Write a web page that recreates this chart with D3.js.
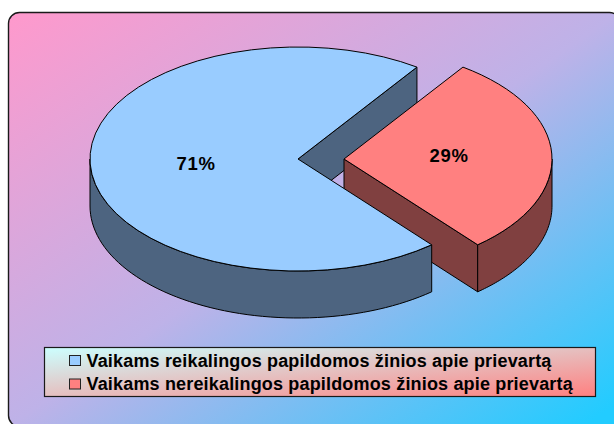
<!DOCTYPE html>
<html>
<head>
<meta charset="utf-8">
<script src="https://cdn.jsdelivr.net/npm/d3@7"></script>
<style>
html, body { margin: 0; padding: 0; background: #fff; overflow: hidden; }
svg { display: block; }
</style>
</head>
<body>
<div id="chart"></div>
<script>
var categories = ["Vaikams reikalingos papildomos žinios apie prievartą", "Vaikams nereikalingos papildomos žinios apie prievartą"];
var values = [70.8, 29.2]; // printed rounded below
var labels = ["71%", "29%"];
var topColors = ["#99CCFF", "#FF8080"];
var sideColors = ["#4D6480", "#804040"];

var width = 614, height = 424;
var rx = 208, ry = 112, depth = 47;
var cx = 298, cy = 159;
var explode = 46; // red slice is pulled out to the right
var tilt = ry / rx;
var firstAngle = 140 * Math.PI / 180;

var svg = d3.select("#chart").append("svg")
	.attr("width", width)
	.attr("height", height)
	.attr("font-family", "'Liberation Sans', Arial, sans-serif");

var defs = svg.append("defs");

var bg = defs.append("linearGradient").attr("id", "bg")
	.attr("x1", 0).attr("y1", 0).attr("x2", 1).attr("y2", 1);
bg.append("stop").attr("offset", 0).attr("stop-color", "#FF99CC");
bg.append("stop").attr("offset", 0.5).attr("stop-color", "#BEB2E8");
bg.append("stop").attr("offset", 0.97).attr("stop-color", "#22CCFF");

var lg = defs.append("linearGradient").attr("id", "lg")
	.attr("x1", 0).attr("y1", 0).attr("x2", 1).attr("y2", 1);
lg.append("stop").attr("offset", 0).attr("stop-color", "#CCFFFF");
lg.append("stop").attr("offset", 1).attr("stop-color", "#FF8080");

// background panel, its right and bottom edges run off the picture
svg.append("rect")
	.attr("x", 8.5).attr("y", 12.5)
	.attr("width", 612).attr("height", 414)
	.attr("rx", 11).attr("ry", 11)
	.attr("fill", "url(#bg)")
	.attr("stroke", "#1a1a1a")
	.attr("stroke-width", 1.4);

var pie = d3.pie().sort(null).startAngle(firstAngle).endAngle(firstAngle + 2 * Math.PI);
var slices = pie(values);
var arc = d3.arc().innerRadius(0).outerRadius(rx);

var big = slices[0], red = slices[1];

function px(a) { return rx * Math.sin(a); }
function py(a) { return -ry * Math.cos(a); }

// outer wall between two angles, only the front half of the ellipse shows
function outerWall(a0, a1) {
	var steps = d3.range(0, 61).map(function(i) { return a0 + (a1 - a0) * i / 60; });
	var pts = steps.map(function(a) { return [px(a), py(a)]; })
		.concat(steps.slice().reverse().map(function(a) { return [px(a), py(a) + depth]; }));
	return d3.line()(pts) + "Z";
}

function radialWall(a) {
	return d3.line()([[0, 0], [px(a), py(a)], [px(a), py(a) + depth], [0, depth]]) + "Z";
}

function addWall(g, d, i) {
	g.append("path")
		.attr("d", d)
		.attr("fill", sideColors[i])
		.attr("stroke", "#000")
		.attr("stroke-width", 1)
		.attr("stroke-linejoin", "round");
}

function addTop(g, slice, i) {
	g.append("path")
		.attr("transform", "scale(1," + tilt + ")")
		.attr("d", arc(slice))
		.attr("fill", topColors[i])
		.attr("stroke", "#000")
		.attr("stroke-width", 1)
		.attr("vector-effect", "non-scaling-stroke");
}

var bigG = svg.append("g").attr("transform", "translate(" + cx + "," + cy + ")");
var redG = svg.append("g").attr("transform", "translate(" + (cx + explode) + "," + cy + ")");
var bigFront = svg.append("g").attr("transform", "translate(" + cx + "," + cy + ")");

// big slice: the wall of the cut, seen behind the red slice
addWall(bigG, radialWall(big.endAngle), 0);

// red slice: walls then top (red angles run past a full turn)
addWall(redG, radialWall(red.endAngle), 1);
addWall(redG, outerWall(2.5 * Math.PI, red.endAngle), 1);
addTop(redG, red, 1);

// big slice in front
addWall(bigFront, outerWall(big.startAngle, 1.5 * Math.PI), 0);
addTop(bigFront, big, 0);

// percent labels
var labelPos = [[196, 163], [449, 155]];
svg.selectAll("text.pct").data(labels).enter().append("text")
	.attr("class", "pct")
	.attr("x", function(d, i) { return labelPos[i][0]; })
	.attr("y", function(d, i) { return labelPos[i][1]; })
	.attr("dy", "0.36em")
	.attr("text-anchor", "middle")
	.attr("font-size", 18.5)
	.attr("letter-spacing", 0.7)
	.attr("font-weight", "bold")
	.text(function(d) { return d; });

// legend
var legend = svg.append("g").attr("transform", "translate(44.5,347.5)");
legend.append("rect")
	.attr("width", 551).attr("height", 49)
	.attr("fill", "url(#lg)")
	.attr("stroke", "#1a1a1a")
	.attr("stroke-width", 1.2);

var rows = legend.selectAll("g.row").data(categories).enter().append("g")
	.attr("class", "row")
	.attr("transform", function(d, i) { return "translate(0," + (13 + i * 23.5) + ")"; });

rows.append("rect")
	.attr("x", 25).attr("y", -5)
	.attr("width", 11).attr("height", 10)
	.attr("fill", function(d, i) { return topColors[i]; })
	.attr("stroke", "#222")
	.attr("stroke-width", 1);

rows.append("text")
	.attr("x", 42)
	.attr("dy", "0.36em")
	.attr("font-size", 18)
	.attr("letter-spacing", 0.17)
	.attr("font-weight", "bold")
	.text(function(d) { return d; });
</script>
</body>
</html>
